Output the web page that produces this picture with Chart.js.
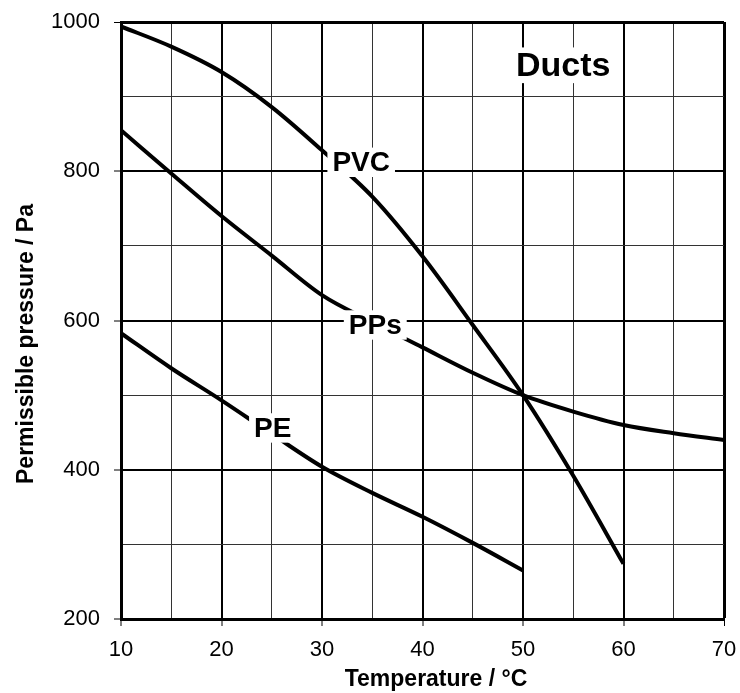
<!DOCTYPE html>
<html>
<head>
<meta charset="utf-8">
<script src="https://cdn.jsdelivr.net/npm/chart.js@4/dist/chart.umd.min.js"></script>
<style>
  html, body { margin: 0; padding: 0; background: #fff; }
  #wrap { width: 740px; height: 693px; }
</style>
</head>
<body>
<div id="wrap"><canvas id="chart"></canvas></div>
<script>
// temperatures (°C) and permissible pressure (Pa)
const tempPVC = [10, 15, 20, 25, 30, 35, 40, 45, 50, 55, 60];
const pvc     = [994, 967, 933, 886, 828, 766, 686, 594, 500, 392, 274];
const tempPPs = [10, 15, 20, 25, 30, 35, 40, 45, 50, 55, 60, 65, 70];
const pps     = [855, 797, 740, 687, 634, 598, 564, 530, 500, 478, 460, 449, 440];
const tempPE  = [10, 15, 20, 25, 30, 35, 40, 45, 50];
const pe      = [583, 536, 493, 448, 404, 369, 337, 302, 265];

// curve labels: [text, x value, y value, font size]
const curveLabels = [
  ['PVC', 33.9, 812, 28],
  ['PPs', 35.3, 594, 28],
  ['PE', 25.1, 456, 28],
  ['Ducts', 54, 942, 34]
];

const xTitle = 'Temperature / °C';
const yTitle = 'Permissible pressure / Pa';

Chart.defaults.font.family = '"Liberation Sans", Arial, sans-serif';
Chart.defaults.color = '#000';

function pts(xs, ys) {
  return xs.map((x, i) => ({ x: x, y: ys[i] }));
}

function line(label, xs, ys) {
  return {
    label: label,
    data: pts(xs, ys),
    borderColor: '#000',
    borderWidth: 4,
    pointRadius: 0,
    fill: false,
    cubicInterpolationMode: 'monotone'
  };
}

// keep the plot area where the reference has it
function noPad(s) {
  s.paddingTop = 0; s.paddingBottom = 0;
  s.paddingLeft = 0; s.paddingRight = 0;
}

const labelPlugin = {
  id: 'curveLabels',
  afterDatasetsDraw(chart) {
    const ctx = chart.ctx;
    const xs = chart.scales.x, ys = chart.scales.y;
    ctx.save();
    ctx.textAlign = 'center';
    ctx.textBaseline = 'middle';
    curveLabels.forEach(l => {
      ctx.font = 'bold ' + l[3] + 'px "Liberation Sans", Arial, sans-serif';
      let px = xs.getPixelForValue(l[1]);
      let py = ys.getPixelForValue(l[2]);
      let w = ctx.measureText(l[0]).width + 10;
      let h = l[3] * 1.05;
      ctx.fillStyle = '#fff';
      ctx.fillRect(px - w / 2, py - h / 2, w, h);
      ctx.fillStyle = '#000';
      ctx.fillText(l[0], px, py + 1);
    });
    // axis titles
    ctx.font = 'bold 23px "Liberation Sans", Arial, sans-serif';
    ctx.fillText(xTitle, 436, 680);
    ctx.translate(27, 344);
    ctx.rotate(-Math.PI / 2);
    ctx.fillText(yTitle, 0, 0);
    ctx.restore();
  }
};

new Chart(document.getElementById('chart'), {
  type: 'line',
  data: {
    datasets: [
      line('PVC', tempPVC, pvc),
      line('PPs', tempPPs, pps),
      line('PE', tempPE, pe)
    ]
  },
  options: {
    responsive: true,
    maintainAspectRatio: false,
    animation: false,
    layout: { padding: { top: 22, right: 16, left: 0, bottom: 0 } },
    plugins: { legend: { display: false }, tooltip: { enabled: false } },
    scales: {
      x: {
        type: 'linear',
        min: 10,
        max: 70,
        afterFit: s => { s.height = 74; noPad(s); },
        ticks: {
          stepSize: 5,
          padding: 11,
          font: { size: 22 },
          callback: v => (v % 10 === 0 ? v : '')
        },
        grid: {
          lineWidth: c => (c.tick.value === 70 ? 3 : c.tick.value % 10 === 0 ? 2 : 1),
          color: c => (c.tick.value % 10 === 0 ? '#000' : '#333'),
          tickLength: 7,
          tickColor: c => (c.tick.value % 10 === 0 ? '#000' : 'rgba(0,0,0,0)'),
          tickWidth: 1
        },
        border: { display: true, color: '#000', width: 3 }
      },
      y: {
        min: 200,
        max: 1000,
        afterFit: s => { s.width = 121; noPad(s); },
        ticks: {
          stepSize: 100,
          padding: 14,
          font: { size: 22 },
          callback: v => (v % 200 === 0 ? v : '')
        },
        grid: {
          lineWidth: c => (c.tick.value === 1000 ? 3 : c.tick.value % 200 === 0 ? 2 : 1),
          color: c => (c.tick.value % 200 === 0 ? '#000' : '#333'),
          tickLength: 7,
          tickColor: c => (c.tick.value % 200 === 0 ? '#000' : 'rgba(0,0,0,0)'),
          tickWidth: 1
        },
        border: { display: true, color: '#000', width: 3 }
      }
    }
  },
  plugins: [labelPlugin]
});
</script>
</body>
</html>
